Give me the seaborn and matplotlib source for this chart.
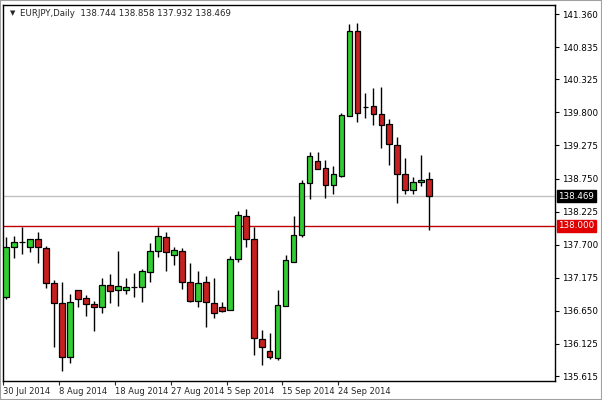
import matplotlib
matplotlib.use("Agg")
import matplotlib.pyplot as plt
import seaborn as sns
import numpy as np
import pandas as pd

# ---- data (EURJPY daily) ----
opens = [136.869, 137.663, 137.742, 137.663, 137.790, 137.647, 137.091, 136.774, 135.917, 136.980,
         136.853, 136.758, 136.710, 137.059, 136.980, 136.980, 137.028, 137.028, 137.266, 137.599,
         137.821, 137.536, 137.599, 137.107, 136.805, 137.107, 136.774, 136.710, 136.663, 137.472,
         138.155, 137.790, 136.202, 136.012, 135.901, 136.726, 137.425, 137.853, 138.678, 139.028,
         138.917, 138.647, 138.790, 139.742, 141.091, 139.885, 139.901, 139.774, 139.615, 139.282,
         138.821, 138.567, 138.694, 138.744]
highs = [137.821, 137.837, 137.980, 137.790, 137.901, 137.678, 137.139, 137.107, 136.917, 136.980,
         136.901, 136.805, 137.171, 137.234, 137.599, 137.171, 137.250, 137.313, 137.726, 137.980,
         137.901, 137.663, 137.647, 137.409, 137.282, 137.202, 137.171, 136.790, 137.520, 138.234,
         138.266, 137.980, 136.345, 136.298, 136.980, 137.536, 138.155, 138.726, 139.171, 139.171,
         139.044, 138.948, 139.790, 141.202, 141.218, 140.107, 140.186, 140.202, 139.694, 139.409,
         139.075, 138.774, 139.123, 138.858]
lows = [136.837, 137.488, 137.552, 137.583, 137.409, 137.012, 136.075, 135.694, 135.821, 136.710,
        136.567, 136.329, 136.615, 136.774, 136.726, 136.917, 136.869, 136.790, 137.107, 137.504,
        137.282, 137.377, 136.996, 136.790, 136.710, 136.393, 136.536, 136.631, 136.663, 137.425,
        137.663, 135.948, 135.790, 135.885, 135.869, 136.726, 137.425, 137.821, 138.425, 138.901,
        138.440, 138.504, 138.774, 139.742, 139.647, 139.710, 139.599, 139.234, 138.964, 138.361,
        138.504, 138.504, 138.631, 137.932]
closes = [137.663, 137.742, 137.745, 137.790, 137.663, 137.091, 136.774, 135.917, 136.790, 136.837,
          136.758, 136.710, 137.059, 136.964, 137.044, 137.028, 137.030, 137.282, 137.599, 137.837,
          137.583, 137.615, 137.107, 136.805, 137.091, 136.790, 136.615, 136.647, 137.472, 138.171,
          137.790, 136.218, 136.075, 135.917, 136.742, 137.456, 137.853, 138.678, 139.107, 138.901,
          138.647, 138.821, 139.758, 141.091, 139.790, 139.887, 139.774, 139.599, 139.298, 138.821,
          138.567, 138.694, 138.726, 138.469]

date_labels = ["30 Jul 2014", "8 Aug 2014", "18 Aug 2014", "27 Aug 2014",
               "5 Sep 2014", "15 Sep 2014", "24 Sep 2014"]
date_label_bars = [0, 7, 14, 21, 28, 35, 42]

price_ticks = [141.360, 140.835, 140.325, 139.800, 139.275, 138.750,
               138.225, 137.700, 137.175, 136.650, 136.125, 135.615]

symbol = "EURJPY,Daily"
last_price = 138.469
level_line = 138.000

df = pd.DataFrame({"open": opens, "high": highs, "low": lows, "close": closes})
df["bar"] = np.arange(len(df))
df["up"] = df["close"] >= df["open"]

# ---- styling ----
sns.set_style("white")
plt.rcParams["font.family"] = ["DejaVu Sans"]

GREEN = "#32CD32"
RED = "#C82020"

fig = plt.figure(figsize=(6.02, 4.0), dpi=100)
fig.patch.set_facecolor("white")
ax = fig.add_axes([3 / 602, 1 - 381 / 400, (555 - 3) / 602, (381 - 5) / 400])

# reference lines
ax.axhline(last_price, color="#C0C0C0", linewidth=1, zorder=1)
ax.axhline(level_line, color="#C00000", linewidth=1, zorder=1)

# wicks
ax.vlines(df["bar"], df["low"], df["high"], color="black", linewidth=1, zorder=2)

# bodies
body_bottom = np.minimum(df["open"], df["close"])
body_height = np.maximum(np.abs(df["close"] - df["open"]), 0.0005)
colors = [GREEN if u else RED for u in df["up"]]
ax.bar(df["bar"], body_height, bottom=body_bottom, width=0.72, color=colors,
       edgecolor="black", linewidth=0.9, zorder=3)

ax.set_xlim(-0.25, 68.75)
ax.set_ylim(135.536, 141.504)

# y axis on the right
ax.yaxis.tick_right()
ax.set_yticks(price_ticks)
ax.set_yticklabels([f"{p:.3f}" for p in price_ticks])
ax.tick_params(axis="y", which="both", right=True, left=False, length=3, width=0.8,
               pad=2, labelsize=6.3, colors="black")

# x axis
ax.set_xticks([b - 0.4 for b in date_label_bars])
ax.set_xticklabels(date_labels, ha="left")
ax.tick_params(axis="x", bottom=True, length=3, width=0.8, pad=1.5, labelsize=6)

for s in ax.spines.values():
    s.set_color("black")
    s.set_linewidth(1)
    s.set_visible(True)

# price boxes
ax.text(1.006, last_price, f"{last_price:.3f}", transform=ax.get_yaxis_transform(),
        ha="left", va="center", fontsize=6.3, color="white",
        bbox=dict(boxstyle="square,pad=0.2", facecolor="black", edgecolor="black"),
        zorder=5, clip_on=False)
ax.text(1.006, level_line, f"{level_line:.3f}", transform=ax.get_yaxis_transform(),
        ha="left", va="center", fontsize=6.3, color="white",
        bbox=dict(boxstyle="square,pad=0.2", facecolor="#E00000", edgecolor="#E00000"),
        zorder=5, clip_on=False)

# header
o, h, l, c = opens[-1], highs[-1], lows[-1], closes[-1]
ax.text(0.012, 0.985, "\u25bc", transform=ax.transAxes, ha="left", va="top", fontsize=5)
ax.text(0.03, 0.99, f"{symbol}  {o:.3f} {h:.3f} {l:.3f} {c:.3f}", transform=ax.transAxes,
        ha="left", va="top", fontsize=6.2)

# outer frame
fig.patches.append(plt.Rectangle((0, 0), 1, 1, transform=fig.transFigure, fill=False,
                                 edgecolor="#A0A0A0", linewidth=1.5))

fig.savefig("out.png", dpi=100)
